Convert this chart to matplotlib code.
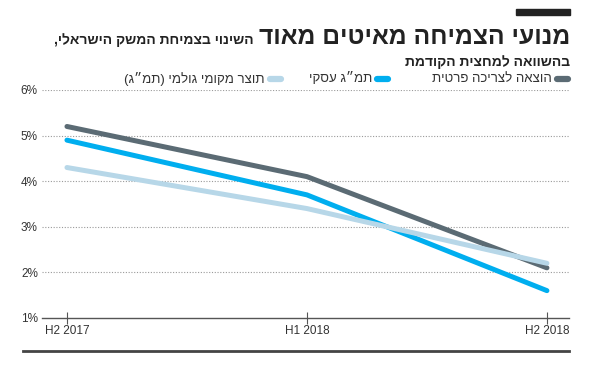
import matplotlib.pyplot as plt
from matplotlib.lines import Line2D
from matplotlib.patches import Rectangle

plt.rcParams['font.family'] = ['Liberation Sans', 'DejaVu Sans']

periods = ['H2 2017', 'H1 2018', 'H2 2018']
consumption = [5.2, 4.1, 2.1]
business_gdp = [4.9, 3.7, 1.6]
gdp = [4.3, 3.4, 2.2]
series_names = ['הוצאה לצריכה פרטית', 'תמ״ג עסקי', 'תוצר מקומי גולמי (תמ״ג)']
colors = ['#5b6b74', '#00aeef', '#b7d7e8']
yticks = [1, 2, 3, 4, 5, 6]

title_big = 'מנועי הצמיחה מאיטים מאוד'
title_small = 'השינוי בצמיחת המשק הישראלי,'
subtitle = 'בהשוואה למחצית הקודמת'


def rtl(s):
    # matplotlib has no bidi support: reverse to visual order
    mirror = {'(': ')', ')': '('}
    return ''.join(mirror.get(c, c) for c in reversed(s))


W, H = 590, 376
fig = plt.figure(figsize=(W / 100, H / 100), dpi=100)
ax = fig.add_axes([42 / W, 1 - 318 / H, 527 / W, 228 / H])

x = list(range(len(periods)))
for vals, c in zip([consumption, business_gdp, gdp], colors):
    ax.plot(x, vals, color=c, lw=3.6, solid_capstyle='round', solid_joinstyle='round', zorder=3)

ax.set_xlim(-0.104, 2.092)
ax.set_ylim(1, 6)
ax.set_yticks(yticks)
ax.set_yticklabels([f'{v}%' for v in yticks])
ax.set_xticks(x)
ax.set_xticklabels(periods)
for v in yticks[1:]:
    ax.axhline(v, color='#9a9a9a', lw=0.8, ls=(0, (1, 1.5)), zorder=1)

for s in ['top', 'right', 'left']:
    ax.spines[s].set_visible(False)
ax.spines['bottom'].set_color('#555555')
ax.spines['bottom'].set_linewidth(1)
ax.tick_params(axis='y', length=0, pad=3, labelsize=8.5, labelcolor='#333333')
ax.tick_params(axis='x', direction='inout', length=8, width=0.8, color='#555555',
               pad=1, labelsize=8.5, labelcolor='#333333')

# titles
fig.patches.append(Rectangle((516 / W, 1 - 15 / H), 54 / W, 6 / H,
                             transform=fig.transFigure, color='#222222'))
r = fig.canvas.get_renderer()
tb = fig.text(570 / W, 1 - 44 / H, rtl(title_big), ha='right', va='baseline',
              fontsize=20, fontweight='bold', color='#222222')
w = tb.get_window_extent(r).width
tb.set_fontsize(20 * 310 / w)
left_big = tb.get_window_extent(r).x0
fig.text((left_big - 5) / W, 1 - 44 / H, rtl(title_small), ha='right', va='baseline',
         fontsize=10, fontweight='bold', color='#222222')
fig.text(570 / W, 1 - 66 / H, rtl(subtitle), ha='right', va='baseline',
         fontsize=10, fontweight='bold', color='#222222')

# legend
swatch_right = [570, 390, 283]
for name, c, xr in zip(series_names, colors, swatch_right):
    fig.add_artist(Line2D([(xr - 13) / W, (xr - 2) / W], [1 - 79 / H] * 2, color=c, lw=4.5,
                          solid_capstyle='round', transform=fig.transFigure))
    fig.text((xr - 18) / W, 1 - 79 / H, rtl(name), ha='right', va='center',
             fontsize=9.5, color='#333333')

# bottom rule
fig.add_artist(Line2D([23 / W, 569 / W], [1 - 351 / H] * 2, color='#444444', lw=2,
                      transform=fig.transFigure))

fig.savefig('out.png', dpi=100)
